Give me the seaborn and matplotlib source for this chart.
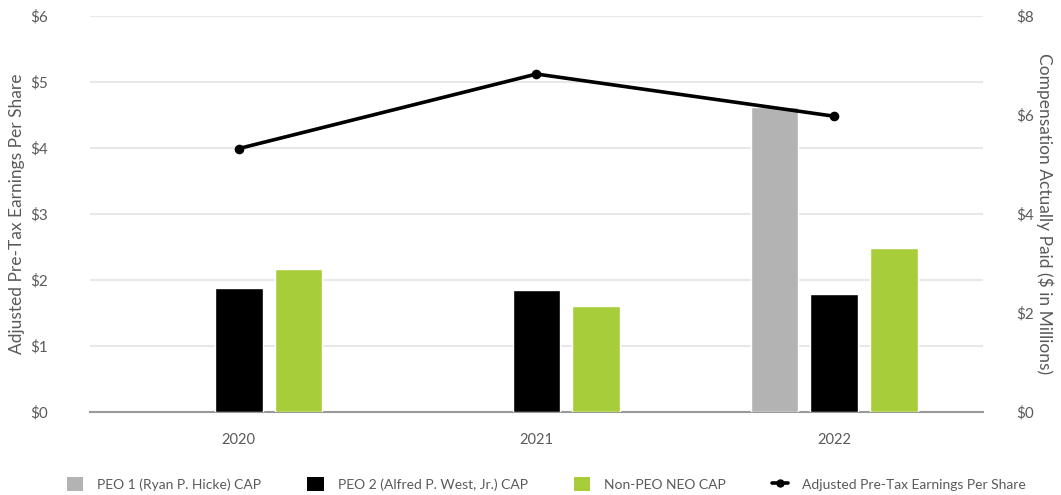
"""Compensation actually paid vs adjusted pre-tax earnings per share."""
import pandas as pd
import matplotlib.pyplot as plt
from matplotlib.patches import Patch
from matplotlib.lines import Line2D
from matplotlib.ticker import FuncFormatter
import seaborn as sns

# Chart data.
years = [2020, 2021, 2022]
peo1_cap = [None, None, 6.15]
peo2_cap = [2.51, 2.47, 2.37]
neo_cap = [2.88, 2.14, 3.31]
eps = [3.99, 5.12, 4.48]

series_names = [
    "PEO 1 (Ryan P. Hicke) CAP",
    "PEO 2 (Alfred P. West, Jr.) CAP",
    "Non-PEO NEO CAP",
]
line_name = "Adjusted Pre-Tax Earnings Per Share"
colors = ["#b3b3b3", "#000000", "#a8cd3a"]
text_grey = "#5a5a5a"

# Long-form table for the bars.
cap_df = pd.DataFrame(
    {
        "year": years * 3,
        "cap": peo1_cap + peo2_cap + neo_cap,
        "series": [n for n in series_names for _ in years],
    }
).dropna()

sns.set_style("white")
plt.rcParams["font.family"] = ["Lato", "DejaVu Sans"]

fig = plt.figure(figsize=(10.61, 4.95), dpi=100)
ax = fig.add_axes([0.0848, 0.1683, 0.8417, 0.7994])
ax_bar = ax.twinx()
ax_line = ax.twinx()

# Bars on the right-hand (compensation) scale.
sns.barplot(
    data=cap_df,
    x="year",
    y="cap",
    hue="series",
    hue_order=series_names,
    palette=colors,
    saturation=1,
    width=0.6,
    gap=0.2,
    legend=False,
    ax=ax_bar,
)

# Line on the left-hand (EPS) scale.
sns.pointplot(
    x=years,
    y=eps,
    color="black",
    markers="o",
    markersize=5,
    linewidth=2.6,
    ax=ax_line,
)

# Scales.
ax.set_ylim(0, 6)
ax_line.set_ylim(0, 6)
ax_bar.set_ylim(0, 8)
for a in (ax, ax_bar, ax_line):
    a.set_xlim(-0.5, 2.5)

dollar = FuncFormatter(lambda v, pos: f"${v:.0f}")

# Left axis with the grid.
ax.set_yticks(range(0, 7))
ax.yaxis.set_major_formatter(dollar)
ax.grid(axis="y", color="#e8e8e8", linewidth=1.5)
ax.set_axisbelow(True)
ax.tick_params(axis="y", length=0, pad=30, labelsize=11, labelcolor=text_grey)
ax.set_ylabel(line_name, fontsize=12.5, color=text_grey, labelpad=4)

# Right axis for compensation.
ax_bar.set_yticks(range(0, 9, 2))
ax_bar.yaxis.set_major_formatter(dollar)
ax_bar.tick_params(axis="y", length=0, pad=24, labelsize=11, labelcolor=text_grey)
ax_bar.set_ylabel(
    "Compensation Actually Paid ($ in Millions)",
    fontsize=12.5,
    color=text_grey,
    rotation=270,
    labelpad=14,
)
ax_bar.set_xlabel("")

ax_line.set_yticks([])
ax_line.set_ylabel("")

# X axis.
ax.set_xticks([0, 1, 2])
ax.set_xticklabels([str(y) for y in years])
ax.tick_params(
    axis="x", length=7, width=1.2, color="#999999", pad=8,
    labelsize=10.5, labelcolor=text_grey,
)
for a in (ax_bar, ax_line):
    a.tick_params(axis="x", bottom=False, labelbottom=False)

for a in (ax, ax_bar, ax_line):
    for side in ("top", "left", "right"):
        a.spines[side].set_visible(False)
ax.spines["bottom"].set_color("#9a9a9a")
ax.spines["bottom"].set_linewidth(1.5)
ax_bar.spines["bottom"].set_visible(False)
ax_line.spines["bottom"].set_visible(False)

# Legend along the bottom.
handles = [Patch(facecolor=c, edgecolor="none") for c in colors]
handles.append(Line2D([], [], color="black", linewidth=2.6, marker="o", markersize=5))
fig.legend(
    handles,
    series_names + [line_name],
    loc="lower center",
    bbox_to_anchor=(0.515, -0.018),
    ncol=4,
    frameon=False,
    fontsize=10,
    labelcolor=text_grey,
    handlelength=1.2,
    handleheight=1.2,
    columnspacing=3.3,
    handletextpad=1.0,
)

fig.savefig("out.png", dpi=100)
